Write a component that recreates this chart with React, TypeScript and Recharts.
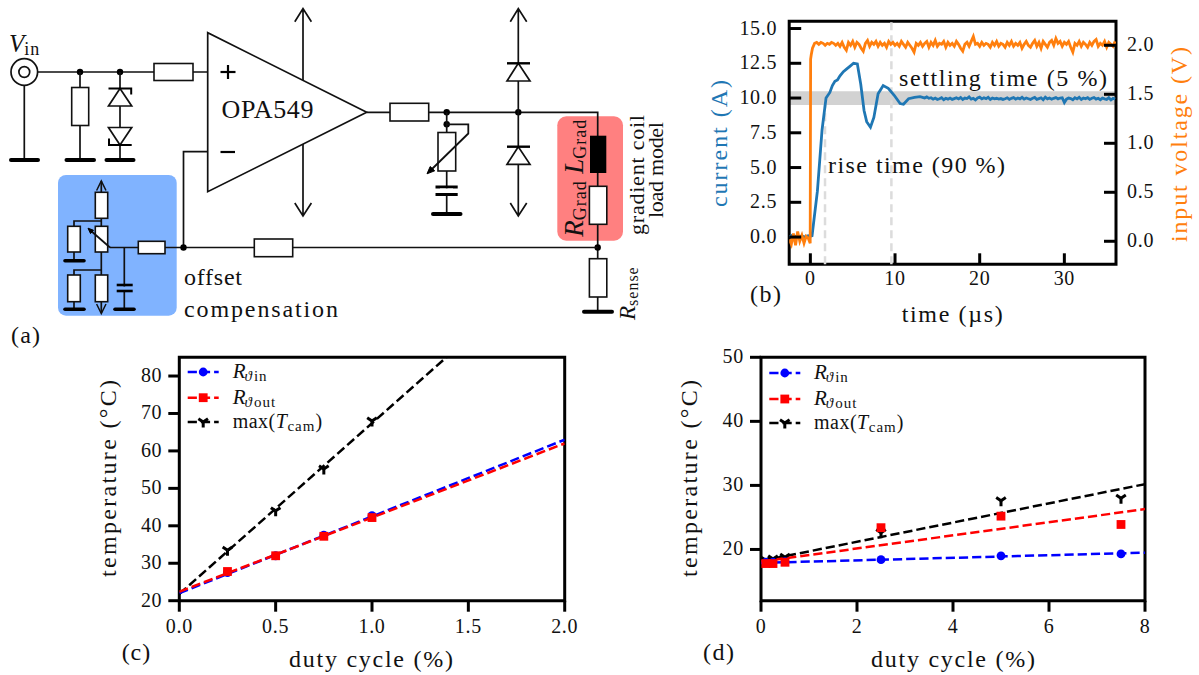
import React from 'react';
import { ComposedChart, Line, XAxis, YAxis, ReferenceArea, ReferenceLine, Legend, Label } from 'recharts';

const SERIF = '"Liberation Serif", serif';
const INK = '#111';

// panel (b)
const timeTicks = [0, 10, 20, 30];
const currentTicks = [0, 2.5, 5, 7.5, 10, 12.5, 15];
const voltageTicks = [0, 0.5, 1, 1.5, 2];
const currentOnsetT = [-2.5,-2.25,-2,-1.75,-1.5,-1.25,-1,-0.75,-0.5,-0.25,0,0.2,0.83,1.38,1.85,2.3,2.6,2.9,3.2,3.5,3.9,4.3,4.7,5.1,5.55,5.95,6.34,6.65,7.1,7.5,8,8.6,9.2,9.9,10.6,11,11.6,12.3,12.95];
const currentOnset = [0,0.1,-0.1,0.05,0,-0.05,0.1,0,0.05,0.1,0.05,0.1,3.3,7.7,10,10.4,10.9,11.2,11.3,11.6,11.9,12.1,12.3,12.5,12.45,11,9.1,8.3,7.9,8.6,10.3,10.9,10.7,10.2,9.6,9.55,9.95,10.05,10.1];
const currentTailStart = 13.25;
const currentTail = [
  10.05,10.0,10.08,9.98,10.02,9.92,10.0,9.9,9.95,10.02,
  9.88,9.98,9.92,10.0,9.9,9.96,10.02,9.94,10.04,9.9,
  10.0,9.96,10.08,9.92,9.98,9.86,10.0,10.06,9.94,10.02,
  9.96,10.05,9.9,10.0,9.94,9.98,9.92,9.96,9.9,9.95,
  10.02,9.9,9.98,10.03,9.92,10.0,9.94,10.05,9.92,10.0,
  9.95,9.9,9.98,10.04,9.9,9.96,10.02,9.88,10.06,9.94,
  10.0,9.92,9.98,10.03,9.94,10.0,10.02,9.68,9.92,10.0,
  9.96,9.88,10.02,9.94,10.05,9.9,10.0,9.95,10.03,9.9,
  9.98,10.04,9.92,9.98,9.88,10.0,9.94,9.9,10.02,9.86,
  9.98,9.92,
];
const voltageOnsetT = [-2.5,-2.25,-2,-1.75,-1.5,-1.25,-1,-0.75,-0.5,-0.25,-0.02,0.03,0.1,0.25];
const voltageOnset = [0.02,-0.03,0.08,-0.04,0.1,0,0.06,-0.02,0.05,0.03,-0.02,1.86,1.9,1.97];
const voltageTailStart = 0.5;
const voltageTail = [
  2.02,2.03,2.01,2.03,2.02,2.00,2.02,2.01,2.03,2.02,
  2.00,2.02,1.99,2.03,1.98,1.95,2.03,2.00,2.04,1.98,
  2.03,2.01,1.97,1.94,2.02,2.05,1.99,2.03,2.01,2.04,
  1.99,2.03,2.00,2.02,1.98,2.04,2.01,2.03,2.00,2.02,
  1.99,2.04,2.01,1.98,2.03,2.00,1.97,1.93,2.02,2.00,
  2.03,1.99,2.02,2.04,1.98,2.03,2.00,2.05,1.99,2.02,
  2.01,2.04,1.98,2.03,2.00,2.02,1.99,2.04,2.01,1.97,
  1.94,2.01,2.03,1.99,2.04,2.09,2.01,2.02,1.99,2.03,
  2.00,2.02,2.01,1.98,2.03,2.00,2.04,1.99,2.02,2.01,
  1.98,2.03,2.00,2.04,1.99,2.02,2.00,2.03,1.97,2.01,
  2.04,2.00,1.98,2.02,2.05,1.99,2.03,1.97,2.04,2.01,
  1.98,2.03,2.05,2.00,2.07,2.02,2.04,1.99,2.03,2.01,
  2.04,1.98,1.93,2.02,2.00,2.04,1.99,2.03,2.01,1.98,
  2.03,2.00,2.04,2.06,1.99,2.02,2.00,2.04,1.98,2.03,
  2.01,1.99,2.04,
];
const sampleStep = 0.25;
const currentRows = [
  ...currentOnsetT.map((t, i) => ({ t, y: currentOnset[i] })),
  ...currentTail.map((y, i) => ({ t: currentTailStart + i * sampleStep, y })),
];
const voltageRows = [
  ...voltageOnsetT.map((t, i) => ({ t, y: voltageOnset[i] })),
  ...voltageTail.map((y, i) => ({ t: voltageTailStart + i * sampleStep, y })),
];

// panel (c)
const dutyC = [0.25, 0.5, 0.75, 1.0];
const inC = [27.5, 32, 37.5, 42.7];
const outC = [27.8, 32, 37.2, 42.2];
const maxC = [33.5, 44, 55.2, 68];
const fitXC = [0, 2];
const fitInC = [22, 63];
const fitOutC = [22.4, 62];
const fitMaxC = [21.8, 113];

// panel (d)
const dutyD = [0.1, 0.25, 0.5, 2.5, 5, 7.5];
const inD = [18, 18, 18.1, 18.4, 19, 19.3];
const outD = [17.8, 17.8, 18, 23.4, 25.2, 23.9];
const maxD = [18.3, 18.5, 18.8, 22.6, 27.6, 28];
const fitXD = [0, 8];
const fitInD = [17.9, 19.5];
const fitOutD = [18.1, 26.3];
const fitMaxD = [18.2, 30.2];

const rows = (xs: number[], ys: number[]) => xs.map((x, i) => ({ x, y: ys[i] }));

type MarkerKind = 'circle' | 'square' | 'tri';
const drawMarker = (kind: MarkerKind, cx: number, cy: number, color: string, key?: any) => {
  if (kind === 'circle') return <circle key={key} cx={cx} cy={cy} r={4.4} fill={color} />;
  if (kind === 'square') return <rect key={key} x={cx - 4.4} y={cy - 4.4} width={8.8} height={8.8} fill={color} />;
  return (
    <g key={key} stroke={color} strokeWidth={3} fill="none">
      <line x1={cx} y1={cy} x2={cx} y2={cy + 5.5} />
      <line x1={cx} y1={cy} x2={cx - 4.8} y2={cy - 3.2} />
      <line x1={cx} y1={cy} x2={cx + 4.8} y2={cy - 3.2} />
    </g>
  );
};
const dotOf = (kind: MarkerKind, color: string) => (p: any) => drawMarker(kind, p.cx, p.cy, color, p.index);

const bottomTick = (dec: number, len: number, dy: number, fs = 20) => (p: any) => (
  <g>
    <line x1={p.x} x2={p.x} y1={p.y} y2={p.y + len} stroke="#000" strokeWidth={3} />
    <text x={p.x} y={p.y + dy} textAnchor="middle" fontFamily={SERIF} fontSize={fs} letterSpacing={0.7} fill={INK}>
      {Number(p.payload.value).toFixed(dec)}
    </text>
  </g>
);
const sideTick = (dec: number, from: number, to: number, labelDx: number, anchor: string) => (p: any) => (
  <g>
    <line x1={p.x + from} x2={p.x + to} y1={p.y} y2={p.y} stroke="#000" strokeWidth={3} />
    <text x={p.x + labelDx} y={p.y + 6} textAnchor={anchor} fontFamily={SERIF} fontSize={20} letterSpacing={0.7} fill={INK}>
      {Number(p.payload.value).toFixed(dec)}
    </text>
  </g>
);

const Txt = ({ x, y, w, s = 24, fill = INK, children }: any) => (
  <text x={x} y={y} fontFamily={SERIF} fontSize={s} fill={fill} textLength={w} lengthAdjust="spacing">{children}</text>
);
const VTxt = ({ x, y, w, s = 24, fill = INK, children }: any) => (
  <text x={x} y={y} transform={`rotate(-90 ${x} ${y})`} fontFamily={SERIF} fontSize={s} fill={fill} textLength={w} lengthAdjust="spacing">{children}</text>
);
const Sub = ({ main, sub, greek, s = 22, ss = 15 }: any) => (
  <>
    <tspan fontStyle="italic" fontSize={s}>{main}</tspan>
    {greek ? <tspan fontStyle="italic" fontSize={ss} dy={3} dx={-1}>{greek}</tspan> : null}
    <tspan fontSize={ss} dy={greek ? 0 : 3} dx={greek ? 2 : 0} letterSpacing={1}>{sub}</tspan>
  </>
);

const legendNames = ['in', 'out', 'cam'];
const LegendBox = ({ x, ys, tx }: { x: number; ys: number[]; tx: number }) => {
  const kinds: MarkerKind[] = ['circle', 'square', 'tri'];
  const colors = ['#0000ff', '#ff0000', '#000000'];
  return (
    <svg width={1199} height={675} style={{ position: 'absolute', left: 0, top: 0, pointerEvents: 'none' }}>
      {kinds.map((k, i) => (
        <g key={k}>
          <line x1={x} x2={x + 31} y1={ys[i]} y2={ys[i]} stroke={colors[i]} strokeWidth={2.5} strokeDasharray="9.2 4" />
          {drawMarker(k, x + 15.5, ys[i], colors[i])}
        </g>
      ))}
      {legendNames.slice(0, 2).map((n, i) => (
        <text key={n} x={tx} y={ys[i] + 6} fontFamily={SERIF} fontSize={15} fill={INK}>
          <Sub main="R" greek="ϑ" sub={n} s={21} ss={15} />
        </text>
      ))}
      <text x={tx} y={ys[2] + 6} fontFamily={SERIF} fontSize={20} fill={INK} letterSpacing={0.5}>
        max(<Sub main="T" sub="cam" s={20} ss={15} /><tspan dy={-3} fontSize={20}>)</tspan>
      </text>
    </svg>
  );
};

const labelWrap = { position: 'absolute', left: 0, top: 0, width: 1199, height: 675, pointerEvents: 'none' } as any;

function TempPanel({ frame, domainX, domainY, ticksX, ticksY, decX, points, fits, fitX, ylx, xlx, legend }: any) {
  const [l, t, r, b] = frame;
  const colors = ['#0000ff', '#ff0000', '#000000'];
  const kinds: MarkerKind[] = ['circle', 'square', 'tri'];
  const order = [2, 0, 1];
  return (
    <div style={{ position: 'absolute', left: 0, top: 0 }}>
      <ComposedChart width={1199} height={675} margin={{ top: t, left: l - 60, right: 1199 - r, bottom: 675 - b - 40 }}>
        <XAxis dataKey="x" type="number" domain={domainX} ticks={ticksX} interval={0} allowDataOverflow axisLine={false} tickLine={false} tickSize={0} tickMargin={0} height={40} tick={bottomTick(decX, 11, 32)}>
          <Label value="duty cycle (%)" content={() => <Txt x={xlx} y={667} w={164}>duty cycle (%)</Txt>} />
        </XAxis>
        <YAxis dataKey="y" type="number" domain={domainY} ticks={ticksY} interval={0} allowDataOverflow axisLine={false} tickLine={false} tickSize={0} tickMargin={0} width={60} tick={sideTick(0, -11, 0, -17, 'end')}>
          <Label value="temperature (°C)" content={() => <VTxt x={ylx} y={577} w={197}>temperature (°C)</VTxt>} />
        </YAxis>
        {order.map((i) => (
          <Line key={`fit${i}`} data={rows(fitX, fits[i])} dataKey="y" name={`fit ${legendNames[i]}`} stroke={colors[i]} strokeWidth={2.5} strokeDasharray="9.2 4" dot={false} isAnimationActive={false} legendType="none" />
        ))}
        {order.map((i) => (
          <Line key={`pts${i}`} data={rows(points[0], points[i + 1])} dataKey="y" name={legendNames[i]} stroke="none" dot={dotOf(kinds[i], colors[i])} activeDot={false} isAnimationActive={false} />
        ))}
        <ReferenceArea x1={domainX[0]} x2={domainX[1]} y1={domainY[0]} y2={domainY[1]} fill="none" stroke="#000" strokeWidth={3} fillOpacity={0} isFront />
        <Legend layout="horizontal" verticalAlign="middle" align="center" wrapperStyle={labelWrap} content={() => legend} />
      </ComposedChart>
    </div>
  );
}

function TimePanel() {
  const [l, t, r, b] = [789.2, 21.3, 1116, 264.3];
  const dom = [-2.5, 36.1];
  const left = [-1.96, 15.52];
  const right = [-0.235, 2.245];
  return (
    <div style={{ position: 'absolute', left: 0, top: 0 }}>
      <ComposedChart width={1199} height={675} margin={{ top: t, left: l - 60, right: 1199 - r - 60, bottom: 675 - b - 40 }}>
        <XAxis dataKey="t" type="number" domain={dom} ticks={timeTicks} interval={0} allowDataOverflow axisLine={false} tickLine={false} tickSize={0} tickMargin={0} height={40} tick={bottomTick(0, -11, 21)}>
          <Label value="time (µs)" content={() => <Txt x={901.7} y={322} w={101}>time (µs)</Txt>} />
        </XAxis>
        <YAxis yAxisId="left" dataKey="y" type="number" domain={left} ticks={currentTicks} interval={0} allowDataOverflow axisLine={false} tickLine={false} tickSize={0} tickMargin={0} width={60} tick={sideTick(1, 0, 12, -12, 'end')}>
          <Label value="current (A)" content={() => <VTxt x={727} y={207} w={127} fill="#1f77b4">current (A)</VTxt>} />
        </YAxis>
        <YAxis yAxisId="right" orientation="right" dataKey="y" type="number" domain={right} ticks={voltageTicks} interval={0} allowDataOverflow axisLine={false} tickLine={false} tickSize={0} tickMargin={0} width={60} tick={sideTick(1, 0, -12, 11, 'start')}>
          <Label value="input voltage (V)" content={() => <VTxt x={1186.5} y={242} w={195} fill="#ff7f0e">input voltage (V)</VTxt>} />
        </YAxis>
        <ReferenceArea yAxisId="left" x1={dom[0]} x2={dom[1]} y1={9.5} y2={10.48} fill="#d2d2d2" fillOpacity={1} stroke="none" />
        <ReferenceLine yAxisId="left" segment={[{ x: 1.73, y: left[0] }, { x: 1.73, y: 10 }]} stroke="#dcdcdc" strokeWidth={2.5} strokeDasharray="8 5" />
        <ReferenceLine yAxisId="left" segment={[{ x: 9.57, y: left[0] }, { x: 9.57, y: left[1] }]} stroke="#dcdcdc" strokeWidth={2.5} strokeDasharray="8 5" />
        <Line yAxisId="left" data={currentRows} dataKey="y" name="current" stroke="#1f77b4" strokeWidth={2.8} dot={false} activeDot={false} isAnimationActive={false} />
        <Line yAxisId="right" data={voltageRows} dataKey="y" name="input voltage" stroke="#ff7f0e" strokeWidth={2.8} dot={false} activeDot={false} isAnimationActive={false} />
        <ReferenceArea yAxisId="left" x1={dom[0]} x2={dom[1]} y1={left[0]} y2={left[1]} fill="none" fillOpacity={0} stroke="#000" strokeWidth={3} isFront />
      </ComposedChart>
    </div>
  );
}

// schematic helpers
const Wire = ({ d, w = 1.7 }: { d: string; w?: number }) => <path d={d} fill="none" stroke={INK} strokeWidth={w} />;
const Box = ({ x1, y1, x2, y2, fill = '#fff' }: any) => <rect x={x1} y={y1} width={x2 - x1} height={y2 - y1} fill={fill} stroke={INK} strokeWidth={1.6} />;
const Gnd = ({ x1, x2, y, w = 4 }: any) => <line x1={x1} x2={x2} y1={y} y2={y} stroke="#000" strokeWidth={w} strokeLinecap="round" />;
const Dot = ({ x, y, r = 3.2 }: any) => <circle cx={x} cy={y} r={r} fill="#000" />;
const Plate = ({ x1, x2, y, w = 3 }: any) => <line x1={x1} x2={x2} y1={y} y2={y} stroke="#000" strokeWidth={w} />;

function Schematic() {
  return (
    <svg width={1199} height={675} style={{ position: 'absolute', left: 0, top: 0 }}>
      <rect x={58} y={175} width={118.7} height={140.7} rx={8} fill="#80b3ff" />
      <rect x={557.3} y={116.3} width={65.7} height={124.4} rx={9} fill="#ff8080" />

      {/* input */}
      <circle cx={24.3} cy={72} r={13.3} fill="#fff" stroke={INK} strokeWidth={1.7} />
      <circle cx={24.3} cy={72} r={5.4} fill="#fff" stroke={INK} strokeWidth={1.7} />
      <Wire d="M37.6 72H207.7M24.3 85.3V160" />
      <Gnd x1={11} x2={38} y={160} />
      <Dot x={80} y={72} /><Dot x={120} y={72} />
      <Box x1={154} y1={63.5} x2={193} y2={80.5} />
      <Wire d="M80 72V160" /><Box x1={71.7} y1={87.5} x2={88.7} y2={125.5} />
      <Gnd x1={66.5} x2={94} y={160} />
      <Wire d="M120 72V160" />
      <path d="M120 88.5L108.5 106H131.7Z" fill="#fff" stroke={INK} strokeWidth={1.7} />
      <path d="M108.5 88.5H131.2V94.5" fill="none" stroke="#000" strokeWidth={2} />
      <path d="M120 145L108.5 127.5H131.7Z" fill="#fff" stroke={INK} strokeWidth={1.7} />
      <path d="M131.7 145H109V138.5" fill="none" stroke="#000" strokeWidth={2} />
      <Gnd x1={106.5} x2={133.5} y={160} />

      {/* op amp */}
      <path d="M303 80V8.5M294.8 21.7L303 8.5L311.4 21.7M303 144V216M294.8 203L303 216L311.4 203" fill="none" stroke={INK} strokeWidth={1.7} />
      <path d="M207.7 32.7V191.7L366.7 112.3Z" fill="#fff" stroke={INK} strokeWidth={1.7} />
      <Plate x1={220.5} x2={235.5} y={72} w={2.2} />
      <line x1={228} x2={228} y1={65} y2={79} stroke="#000" strokeWidth={2.2} />
      <Plate x1={220.5} x2={235} y={152} w={2.2} />
      <Txt x={221.5} y={118} w={92} s={26}>OPA549</Txt>
      <Wire d="M207.7 151.7H183.5V247.5" />

      {/* output */}
      <Wire d="M366.7 112.3H597.7V311" />
      <Box x1={390} y1={103.3} x2={428.7} y2={121} />
      <Dot x={446.7} y={112.3} /><Dot x={518.3} y={112.3} />
      <Dot x={446.7} y={124.3} />
      <Wire d="M446.7 112.3V214" />
      <Box x1={438} y1={132.5} x2={455.7} y2={171} />
      <Plate x1={435.5} x2={457.7} y={187} /><Plate x1={435.5} x2={457.7} y={194.5} />
      <rect x={440} y={188.5} width={13} height={4.5} fill="#fff" />
      <Gnd x1={433} x2={460.5} y={214} />
      <path d="M446.7 124.3H468.3V133.5L431 170" fill="none" stroke={INK} strokeWidth={1.8} />
      <path d="M427 173.8L430.2 166.5L434.7 170.8Z" fill="#000" stroke="#000" />

      {/* clamp diodes */}
      <Wire d="M518.3 8.5V216M510.3 21.7L518.3 8.5L526.7 21.7M510.3 203L518.3 216L526.7 203" />
      <path d="M518.3 63.3L507 81H530Z" fill="#fff" stroke={INK} strokeWidth={1.7} />
      <Plate x1={507} x2={530} y={63.3} w={2.4} />
      <path d="M518.3 146.7L507 164.3H530Z" fill="#fff" stroke={INK} strokeWidth={1.7} />
      <Plate x1={507} x2={530} y={146.7} w={2.4} />

      {/* load */}
      <rect x={590} y={135.7} width={16.3} height={37.3} fill="#000" />
      <Box x1={589.4} y1={186.3} x2={606.8} y2={224.3} />
      <Box x1={589.4} y1={258.7} x2={606.8} y2={297} />
      <Dot x={597.7} y={247.5} />
      <Gnd x1={584} x2={612} y={311.7} />
      <text x={583} y={173.7} transform="rotate(-90 583 173.7)" fontFamily={SERIF} fontSize={19} fill={INK}><Sub main="L" sub="Grad" s={27} ss={18} /></text>
      <text x={583} y={236.7} transform="rotate(-90 583 236.7)" fontFamily={SERIF} fontSize={19} fill={INK}><Sub main="R" sub="Grad" s={27} ss={18} /></text>
      <VTxt x={643.5} y={235} w={120} s={22}>gradient coil</VTxt>
      <VTxt x={663} y={218} w={96} s={22}>load model</VTxt>
      <text x={635} y={320} transform="rotate(-90 635 320)" fontFamily={SERIF} fontSize={16} fill={INK}><Sub main="R" sub="sense" s={23} ss={16} /></text>
      <text x={9} y={52} fontFamily={SERIF} fontSize={18} fill={INK}><Sub main="V" sub="in" s={25} ss={18} /></text>

      {/* feedback */}
      <Wire d="M110 247.5H597.7" />
      <Box x1={254.3} y1={239} x2={292.7} y2={256.7} />
      <Dot x={183.5} y={247.5} />

      {/* offset network */}
      <Wire d="M101.3 181V313" />
      <path d="M96.6 190.5L101.3 181L106 190.5M96.6 304L101.3 313.5L106 304" fill="none" stroke={INK} strokeWidth={1.5} />
      <Box x1={95.3} y1={192.3} x2={107.7} y2={218.3} />
      <Box x1={95.3} y1={226.3} x2={107.7} y2={252} />
      <Box x1={95.3} y1={275} x2={107.7} y2={301.7} />
      <Wire d="M101.3 221H74V260M101.3 270H74V309" />
      <Box x1={67.7} y1={226.3} x2={80.3} y2={252} />
      <Box x1={67.7} y1={275} x2={80.3} y2={301.7} />
      <Gnd x1={65} x2={84} y={260.7} w={3.6} /><Gnd x1={65} x2={84} y={309.3} w={3.6} />
      <Wire d="M110 247.5L90 230" />
      <path d="M88 228.2L93.5 230.2L90.5 233.6Z" fill="#000" stroke="#000" />
      <Box x1={138.3} y1={241.3} x2={165} y2={253.7} />
      <Wire d="M124.3 247.5V309" />
      <rect x={120} y={286.5} width={9} height={3.5} fill="#80b3ff" />
      <Plate x1={116.7} x2={132.7} y={285} w={2.6} /><Plate x1={116.7} x2={132.7} y={291} w={2.6} />
      <Gnd x1={115} x2={134} y={309.3} w={3.6} />

      <Txt x={184} y={285} w={58}>offset</Txt>
      <Txt x={184} y={316.5} w={154}>compensation</Txt>
      <Txt x={11} y={343} w={29}>(a)</Txt>
      <Txt x={750} y={301.5} w={31}>(b)</Txt>
      <Txt x={121.7} y={660} w={28.5}>(c)</Txt>
      <Txt x={703} y={660} w={31}>(d)</Txt>
    </svg>
  );
}

function Annotations() {
  return (
    <svg width={1199} height={675} style={{ position: 'absolute', left: 0, top: 0, pointerEvents: 'none' }}>
      <Txt x={899} y={86} w={208}>settling time (5 %)</Txt>
      <Txt x={828} y={173} w={177}>rise time (90 %)</Txt>
    </svg>
  );
}

export default function App() {
  return (
    <div style={{ position: 'absolute', left: 0, top: 0, width: 1199, height: 675, background: '#fff', overflow: 'hidden' }}>
      <Schematic />
      <TimePanel />
      <TempPanel
        frame={[179.3, 357.3, 564.7, 600.7]}
        domainX={[0, 2]} domainY={[20, 85]}
        ticksX={[0, 0.5, 1, 1.5, 2]} ticksY={[20, 30, 40, 50, 60, 70, 80]} decX={1}
        points={[dutyC, inC, outC, maxC]} fits={[fitInC, fitOutC, fitMaxC]} fitX={fitXC}
        ylx={116} xlx={289}
        legend={<LegendBox x={187.7} ys={[372, 397.7, 422]} tx={232.7} />}
      />
      <TempPanel
        frame={[761, 357.3, 1145, 600.7]}
        domainX={[0, 8]} domainY={[12, 50]}
        ticksX={[0, 2, 4, 6, 8]} ticksY={[20, 30, 40, 50]} decX={0}
        points={[dutyD, inD, outD, maxD]} fits={[fitInD, fitOutD, fitMaxD]} fitX={fitXD}
        ylx={697} xlx={871}
        legend={<LegendBox x={769.3} ys={[373, 399, 423]} tx={814} />}
      />
      <Annotations />
    </div>
  );
}
